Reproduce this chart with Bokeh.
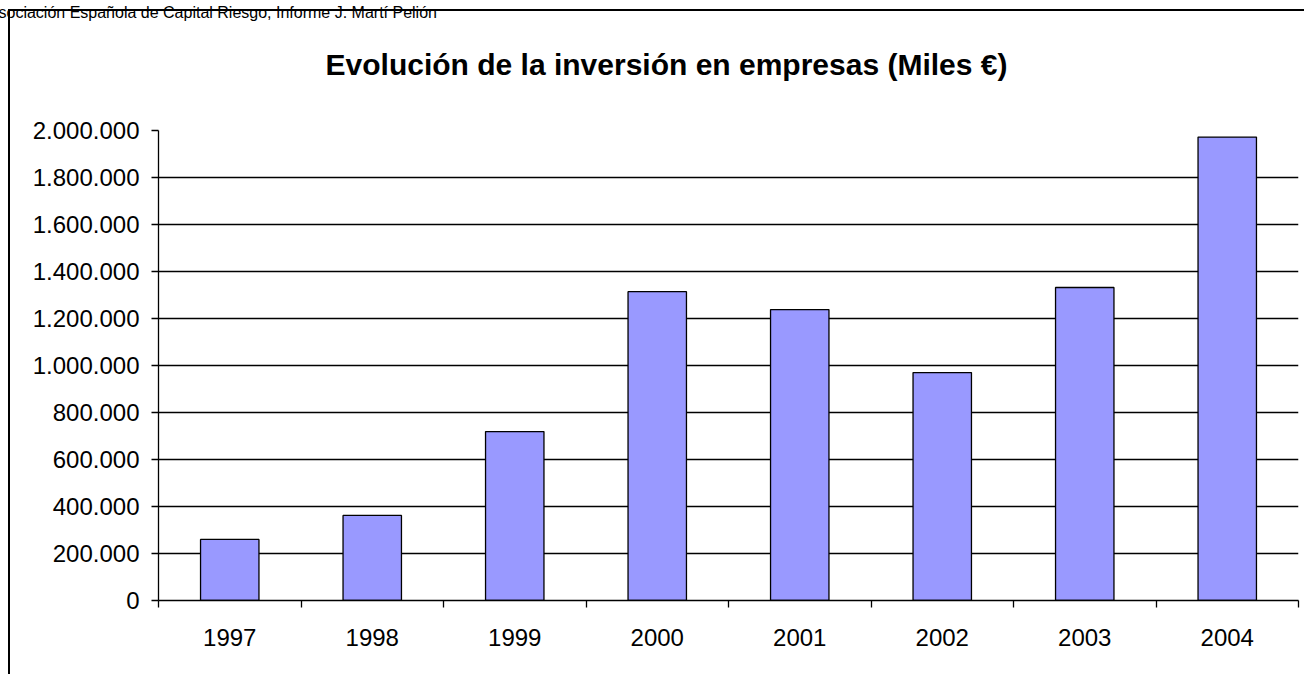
from bokeh.plotting import figure
from bokeh.layouts import column
from bokeh.models import (Range1d, FixedTicker, CustomJSTickFormatter, Grid,
                          InlineStyleSheet, Title)
from bokeh.core.properties import value
from bokeh.embed import file_html
from bokeh.resources import INLINE

# ---- data ----
years = ["1997", "1998", "1999", "2000", "2001", "2002", "2003", "2004"]
inversion = [260000, 362000, 719000, 1314000, 1238000, 970000, 1332000, 1972000]
y_ticks = [0, 200000, 400000, 600000, 800000, 1000000, 1200000, 1400000,
           1600000, 1800000, 2000000]
title_text = "Evolución de la inversión en empresas (Miles €)"
source_text = "sociación Española de Capital Riesgo, Informe J. Martí Pelión"

FONT = "Liberation Sans"
W, H = 1304, 674
FL, FR = 158, 6                 # left / right borders of the plotting frame
HEAD = 115                      # height of the heading strip
HEAD_TOP = 22                   # panel for the source line inside the heading strip
TOP_GAP = 15                    # space above the plotting frame inside the chart figure

n = len(years)
centres = [i + 0.5 for i in range(n)]
bounds = list(range(n + 1))

# ---- heading strip (title + source line), pixel coordinates ----
head = figure(width=W, height=HEAD, x_range=Range1d(FL, W - FR),
              y_range=Range1d(HEAD, HEAD_TOP),
              output_backend="svg", toolbar_location=None,
              x_axis_location=None, y_axis_location=None)
head.min_border_left = FL
head.min_border_right = FR
head.min_border_top = HEAD_TOP
head.min_border_bottom = 0
head.outline_line_color = None
head.xgrid.visible = False
head.ygrid.visible = False
head.background_fill_color = "white"
head.border_fill_color = "white"
head.title = Title(text=source_text, align="left", offset=-2 - FL, standoff=0,
                   vertical_align="top", text_font=FONT, text_font_size="16px",
                   text_font_style="normal", text_color="black")
head.text(x=[666], y=[64], text=[title_text], text_align="center",
          text_baseline="alphabetic", text_font=value(FONT),
          text_font_size=value("30px"), text_font_style="bold", text_color="black")

# ---- bar chart ----
p = figure(width=W, height=H - HEAD,
           x_range=Range1d(0, n),
           y_range=Range1d(0, y_ticks[-1]),
           output_backend="svg", toolbar_location=None)
p.min_border_left = FL
p.min_border_right = FR
p.min_border_top = TOP_GAP
p.min_border_bottom = 74
p.outline_line_color = None
p.background_fill_color = "white"
p.border_fill_color = "white"
p.xgrid.visible = False
p.ygrid.visible = False

# y axis
yax = p.yaxis[0]
yax.ticker = FixedTicker(ticks=y_ticks)
yax.formatter = CustomJSTickFormatter(
    code=r"return Math.round(tick).toString().replace(/\B(?=(\d{3})+(?!\d))/g, '.');")
yax.axis_line_color = "black"
yax.axis_line_width = 1.3
yax.major_tick_line_color = "black"
yax.major_tick_line_width = 1.3
yax.major_tick_out = 7
yax.major_tick_in = 0
yax.minor_tick_line_color = None
yax.major_label_text_font = FONT
yax.major_label_text_font_size = "24px"
yax.major_label_text_color = "black"
yax.major_label_standoff = 12

p.add_layout(Grid(dimension=1, ticker=yax.ticker, grid_line_color="black",
                  grid_line_width=1.3))

# x axis: labels at category centres, tick marks (minor ticks) at boundaries
xax = p.xaxis[0]
xax.ticker = FixedTicker(ticks=centres, minor_ticks=bounds)
xax.major_label_overrides = {c: y for c, y in zip(centres, years)}
xax.axis_line_color = "black"
xax.axis_line_width = 1.3
xax.major_tick_line_color = None
xax.major_tick_out = 0
xax.major_tick_in = 0
xax.minor_tick_line_color = "black"
xax.minor_tick_line_width = 1.3
xax.minor_tick_out = 7
xax.minor_tick_in = 0
xax.major_label_text_font = FONT
xax.major_label_text_font_size = "24px"
xax.major_label_text_color = "black"
xax.major_label_standoff = 21

# bars
p.vbar(x=centres, top=inversion, width=0.41, fill_color="#9999FF",
       line_color="black", line_width=1.3)

layout = column(head, p, spacing=0)
# outer chart box (left and top edges visible), drawn with CSS
layout.stylesheets = [InlineStyleSheet(css=""":host { position: relative; }
:host::after { content: ''; position: absolute; left: 8px; top: 9px; right: 0px; bottom: 0px;
  border-left: 2px solid black; border-top: 2px solid black; pointer-events: none; }""")]

open("out.html", "w").write(file_html(layout, INLINE))
